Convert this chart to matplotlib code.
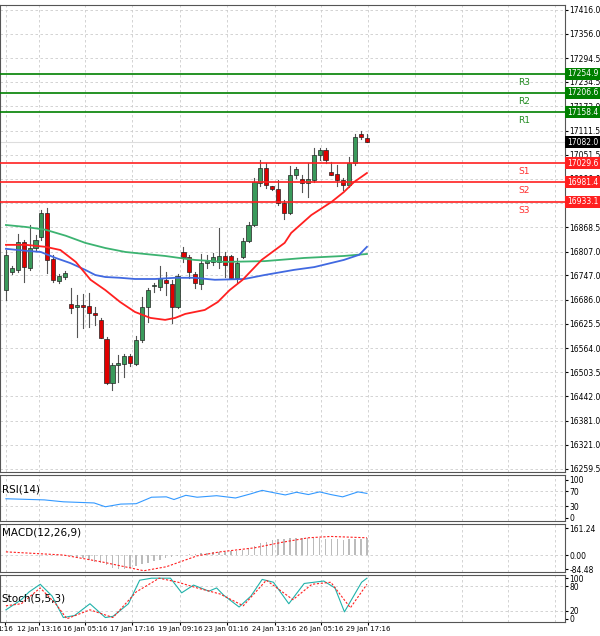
import matplotlib
matplotlib.use("Agg")
import matplotlib.pyplot as plt
from matplotlib.patches import Rectangle

# OHLC per candle
opens  = [16710,16756,16761,16831,16766,16816,16844,16904,16788,16733,16743,16675,16667,16672,16670,16652,16635,16587,16476,16521,16524,16544,16524,16584,16667,16720,16718,16735,16725,16667,16806,16793,16751,16725,16778,16781,16781,16796,16796,16741,16793,16834,16874,16980,17018,16972,16965,16930,16904,17000,16990,16980,16988,17050,17063,17008,17003,16988,16975,17030,17104,17093]
highs  = [16811,16771,16851,16836,16874,16849,16912,16917,16798,16751,16758,16715,16698,16700,16703,16667,16640,16592,16526,16546,16549,16549,16594,16693,16715,16728,16771,16756,16735,16751,16819,16798,16756,16801,16798,16803,16867,16806,16798,16791,16841,16882,16993,17038,17030,16972,16988,16937,17023,17020,17000,17030,17068,17068,17068,17033,17025,16993,17045,17104,17111,17104]
lows   = [16685,16751,16756,16730,16761,16811,16836,16753,16730,16728,16738,16652,16592,16614,16617,16622,16589,16473,16458,16478,16491,16519,16521,16579,16630,16705,16710,16698,16627,16665,16781,16741,16715,16713,16766,16773,16766,16743,16741,16730,16791,16831,16872,16972,16967,16962,16925,16889,16902,16992,16957,16945,16982,17038,17030,17000,16972,16962,16970,17025,17091,17082]
closes = [16798,16766,16831,16768,16816,16836,16904,16786,16735,16746,16753,16665,16672,16667,16652,16647,16589,16476,16521,16526,16544,16526,16584,16667,16710,16723,16741,16728,16667,16746,16793,16756,16728,16778,16783,16793,16796,16773,16741,16778,16834,16874,16983,17018,16975,16965,16930,16904,17000,17015,16980,16990,17050,17063,17038,17000,16988,16975,17030,17096,17096,17082]

ma_red_x = [0,3.4,6.7,9.2,11.8,14.3,16.8,19.3,21.8,24.4,26.9,28.6,30.3,33.6,35.8,37.8,40,43.2,47.1,48.2,51.6,55,57.1,58.8,61]
ma_red_y = [16824,16824,16819,16811,16781,16736,16710,16680,16655,16640,16635,16640,16650,16660,16680,16710,16736,16786,16829,16854,16899,16932,16957,16982,17005]
ma_blue_x = [0,3.4,5.9,8.4,10.9,13.4,15.1,16.8,19.3,21.8,25.2,28.6,31.9,35.3,40.3,43.7,48.7,52.1,57.1,59.7,61]
ma_blue_y = [16814,16809,16806,16791,16778,16761,16748,16743,16741,16738,16738,16741,16741,16736,16738,16748,16761,16768,16786,16799,16819]
ma_green_x = [0,3.4,6.7,10.1,13.4,16.8,20.2,23.5,26.9,30.3,31.9,37,43.7,50.4,57.1,61]
ma_green_y = [16874,16869,16862,16847,16829,16816,16806,16801,16796,16789,16786,16781,16783,16791,16796,16801]

levels_r = [("R3",17254.9),("R2",17206.6),("R1",17158.4)]
levels_s = [("S1",17029.6),("S2",16981.4),("S3",16933.1)]
last_price = 17082.0
price_ticks = [17416.0,17356.0,17294.5,17234.5,17173.0,17111.5,17051.5,16990.0,16929.0,16868.5,16807.0,16747.0,16686.0,16625.5,16564.0,16503.5,16442.0,16381.0,16321.0,16259.5]

rsi_x = [0,6.5,9.7,14.9,16.8,19.4,22,24.6,27.1,28.4,30.4,32.3,35.6,38.8,41.4,43.3,45.2,47.2,49.1,51.1,53,54.9,56.9,59.5,61]
rsi_y = [50,47,42,39,29,36,37,54,55,48,59,54,58,52,63,72,66,60,67,61,68,61,55,68,64]

macd_hist = [2,2,2,1,1,1,0,0,0,0,0,-5,-12,-20,-30,-40,-50,-62,-75,-85,-82,-75,-65,-55,-45,-35,-28,-20,-10,-3,2,6,9,12,14,16,18,20,22,26,32,40,55,70,80,88,94,98,100,102,104,102,100,100,98,96,94,92,93,96,98,100]
macd_sig_x = [0,9.7,16.2,23.3,27.1,32.3,36.2,42,46.5,51.1,54.9,61]
macd_sig_y = [19,0,-41,-94,-70,-5,19,43,75,103,111,103]

st_main_x = [0,2.6,3.9,5.8,7.8,9.7,11.6,14.2,16.8,18.1,20.7,22.6,24.6,26.5,27.8,29.7,31.7,34.3,35.6,36.8,39.4,41.4,43.3,45.2,47.8,50.4,53.7,55.6,57.2,60.1,61]
st_main_y = [22,47,66,85,56,3,8,37,3,6,37,95,100,100,100,64,83,68,76,58,29,56,97,90,37,87,93,76,17,90,100]
st_sig_x = [0,2.6,5.8,8.4,10.3,14.2,18.1,22,25.9,29.1,32.3,36.2,40.1,44,48.5,51.7,54.9,58.2,61]
st_sig_y = [32,37,76,37,0,22,3,66,100,90,76,61,32,95,47,85,90,27,85]

date_labels = ["1:16","12 Jan 13:16","16 Jan 05:16","17 Jan 17:16","19 Jan 09:16","23 Jan 01:16","24 Jan 13:16","26 Jan 05:16","29 Jan 17:16"]
date_pos = [-0.2,5.6,13.4,21.3,29.4,37.3,45.4,53.3,61.2]

XMAX = 94.5
grid_x = [0.0] + date_pos[1:] + [61.2 + 7.9*k for k in range(1,5)]
fs = 5.5
GREEN = "#3a9a5b"; RED = "#e00000"
fig = plt.figure(figsize=(6, 6.36), dpi=100)
L, W = 0.0, 0.942
ax = fig.add_axes([L, 0.258, W, 0.734])
ax1 = fig.add_axes([L, 0.181, W, 0.072])
ax2 = fig.add_axes([L, 0.101, W, 0.075])
ax3 = fig.add_axes([L, 0.022, W, 0.074])
for a in (ax, ax1, ax2, ax3):
    a.yaxis.tick_right()
    a.tick_params(axis='y', labelsize=fs, length=2, pad=1)
    a.tick_params(axis='x', length=0, labelbottom=False)
    for x in grid_x:
        a.axvline(x, color="#cccccc", lw=0.6, ls=(0, (3, 3)), zorder=0)
    for s in a.spines.values():
        s.set_color("#555555"); s.set_linewidth(0.8)

# main
ax.set_ylim(16252, 17428)
ax.set_yticks(price_ticks)
ax.set_yticklabels([f"{t:.1f}" for t in price_ticks])
for t in price_ticks:
    ax.axhline(t, color="#cccccc", lw=0.6, ls=(0, (3, 3)), zorder=0)
for i, (o, h, l, c) in enumerate(zip(opens, highs, lows, closes)):
    col = GREEN if c >= o else RED
    ax.plot([i, i], [l, h], color="#555555", lw=0.8, zorder=2)
    b = min(o, c); hgt = max(abs(c - o), 2.5)
    ax.add_patch(Rectangle((i - 0.35, b), 0.7, hgt, facecolor=col, edgecolor="#222222", lw=0.5, zorder=3))
ax.plot(ma_green_x, ma_green_y, color="#3cb371", lw=1.3, zorder=4)
ax.plot(ma_blue_x, ma_blue_y, color="#4169e1", lw=1.3, zorder=4)
ax.plot(ma_red_x, ma_red_y, color="#ff2020", lw=1.3, zorder=4)
ax.axhline(last_price, color="#dddddd", lw=0.8, zorder=1)
for name, v in levels_r:
    ax.axhline(v, color="#008000", lw=1.2, zorder=5)
    ax.text(87.5, v - 10, name, color="#228b22", fontsize=6.5, ha="center", va="top")
    ax.text(1.003, v, f"{v:.1f}", transform=ax.get_yaxis_transform(), fontsize=fs, color="white",
            va="center", ha="left", zorder=10, bbox=dict(boxstyle="square,pad=0.2", fc="#008000", ec="none"))
for name, v in levels_s:
    ax.axhline(v, color="#ff2020", lw=1.2, zorder=5)
    ax.text(87.5, v - 10, name, color="#ff3030", fontsize=6.5, ha="center", va="top")
    ax.text(1.003, v, f"{v:.1f}", transform=ax.get_yaxis_transform(), fontsize=fs, color="white",
            va="center", ha="left", zorder=10, bbox=dict(boxstyle="square,pad=0.2", fc="#ff2020", ec="none"))
ax.text(1.003, last_price, f"{last_price:.1f}", transform=ax.get_yaxis_transform(), fontsize=fs, color="white",
        va="center", ha="left", zorder=10, bbox=dict(boxstyle="square,pad=0.2", fc="black", ec="none"))

# RSI
ax1.set_ylim(-8, 112)
ax1.set_yticks([0, 30, 70, 100])
for t in (30, 70):
    ax1.axhline(t, color="#cccccc", lw=0.6, ls=(0, (3, 3)), zorder=0)
ax1.plot(rsi_x, rsi_y, color="#3399ff", lw=0.8)
ax1.text(0.003, 0.8, "RSI(14)", transform=ax1.transAxes, fontsize=7.5, va="top")

# MACD
ax2.set_ylim(-100, 185)
ax2.set_yticks([-84.48, 0.0, 161.24])
ax2.set_yticklabels(["-84.48", "0.00", "161.24"])
ax2.axhline(0, color="#cccccc", lw=0.6, ls=(0, (3, 3)), zorder=0)
ax2.bar(range(len(macd_hist)), macd_hist, width=0.25, color="#bbbbbb")
ax2.plot(macd_sig_x, macd_sig_y, color="#ff2020", lw=0.8, ls=(0, (2, 1.5)))
ax2.text(0.003, 0.92, "MACD(12,26,9)", transform=ax2.transAxes, fontsize=7.5, va="top")

# Stoch
ax3.set_ylim(-8, 108)
ax3.set_yticks([0, 20, 80, 100])
for t in (20, 80):
    ax3.axhline(t, color="#cccccc", lw=0.6, ls=(0, (3, 3)), zorder=0)
ax3.plot(st_main_x, st_main_y, color="#20b2aa", lw=0.8)
ax3.plot(st_sig_x, st_sig_y, color="#ff2020", lw=0.8, ls=(0, (2, 1.5)))
ax3.text(0.003, 0.6, "Stoch(5,5,3)", transform=ax3.transAxes, fontsize=7.5, va="top")
ax3.set_xticks(date_pos)
ax3.set_xticklabels(date_labels)
ax3.tick_params(axis='x', labelbottom=True, labelsize=5, length=2, pad=1)

for a in (ax, ax1, ax2, ax3):
    a.set_xlim(-1, XMAX)

fig.savefig("out.png", dpi=100, facecolor="white")
